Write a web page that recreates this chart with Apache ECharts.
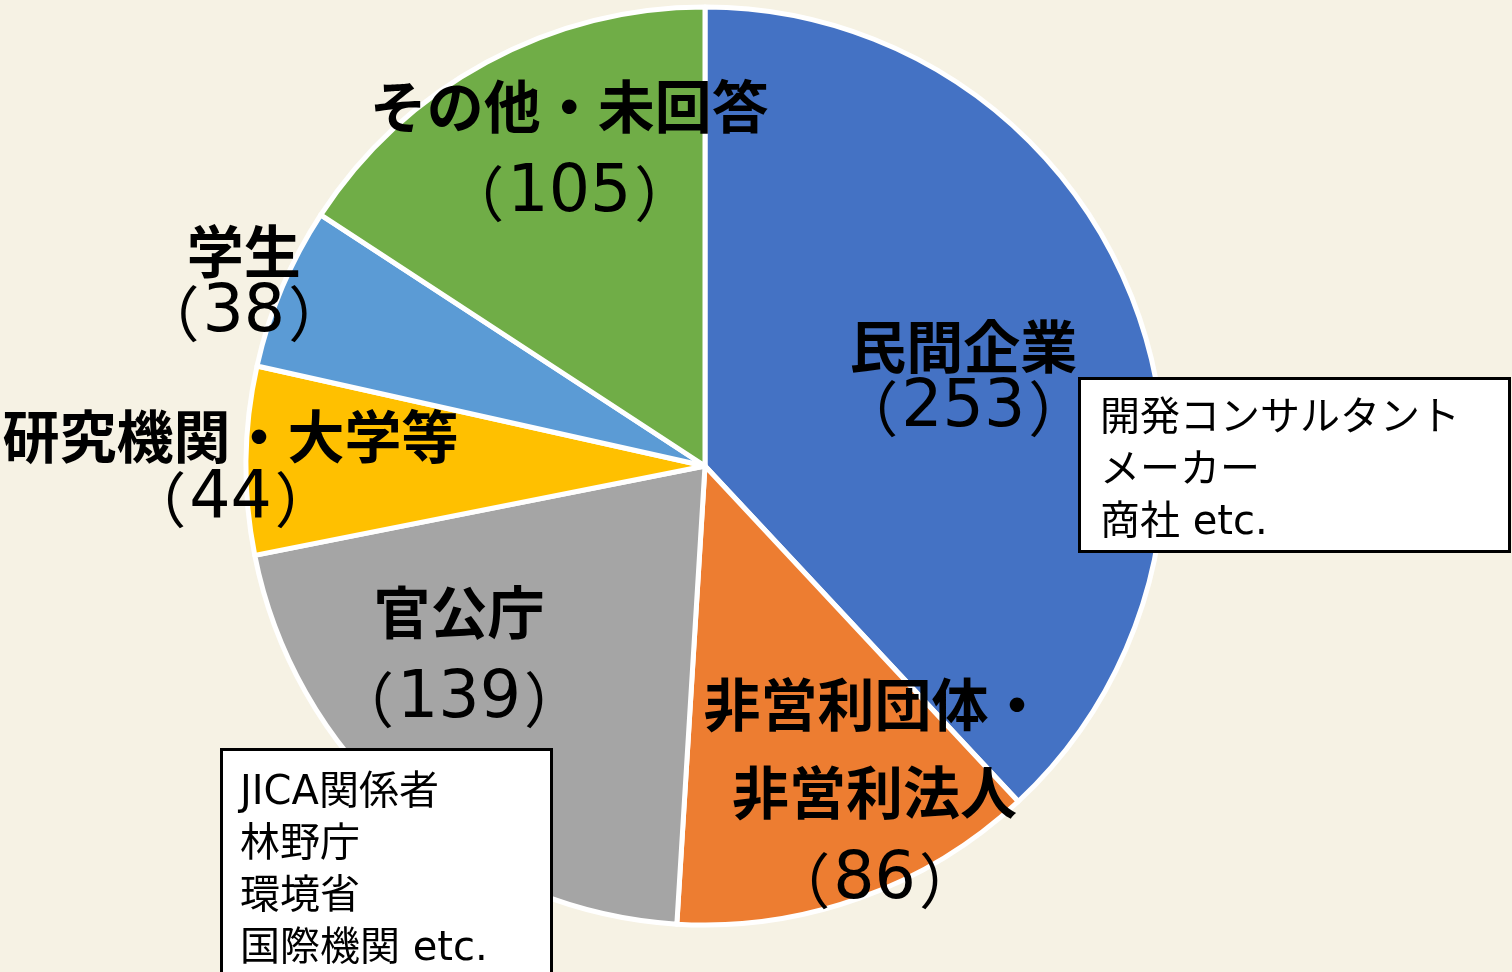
<!DOCTYPE html>
<html>
<head>
<meta charset="utf-8">
<script src="https://cdn.jsdelivr.net/npm/echarts@6/dist/echarts.min.js"></script>
<style>
html,body{margin:0;padding:0;background:#F6F2E4;}
#chart{width:1512px;height:972px;}
</style>
</head>
<body>
<div id="chart"></div>
<script>
// ---- data ----
const categories = ['民間企業', '非営利団体・\n非営利法人', '官公庁', '研究機関・大学等', '学生', 'その他・未回答'];
const counts = [253, 86, 139, 44, 38, 105];
const colors = ['#4472C4', '#ED7D31', '#A5A5A5', '#FFC000', '#5B9BD5', '#70AD47'];
const noteRight = ['開発コンサルタント', 'メーカー', '商社 etc.'];
const noteLeft = ['JICA関係者', '林野庁', '環境省', '国際機関 etc.'];

// ---- layout (label nudges from slice centre) ----
const labelOffsets = [[42, -3], [91, 108], [-93, 15], [-242, 5], [-247, -93], [-25, -111]];
const wideSpacing = [false, true, true, false, false, true];

const CJK = '"Noto Sans CJK JP", "Noto Sans", sans-serif';
const NUM = '"DejaVu Sans", "Noto Sans CJK JP", sans-serif';
const chart = echarts.init(document.getElementById('chart'));

const seriesData = categories.map((name, i) => ({
  name: name,
  value: counts[i],
  itemStyle: { color: colors[i] },
  label: { offset: labelOffsets[i] }
}));

function richSet(lh) {
  return {
    n: { fontFamily: CJK, fontSize: 57, fontWeight: 'bold', color: '#000', lineHeight: lh, align: 'center' },
    p: { fontFamily: CJK, fontSize: 60, fontWeight: 'normal', color: '#000', lineHeight: lh, padding: [0, 3, 0, 3] },
    v: { fontFamily: NUM, fontSize: 65, fontWeight: 'normal', color: '#000', lineHeight: lh }
  };
}
const rs = richSet(63), rw = richSet(88);
const rich = {
  n: rs.n, p: rs.p, v: rs.v,
  n2: rw.n, p2: rw.p, v2: rw.v
};

chart.setOption({
  backgroundColor: '#F6F2E4',
  animation: false,
  series: [{
    type: 'pie',
    center: [705, 466],
    radius: 459,
    startAngle: 90,
    clockwise: true,
    avoidLabelOverlap: false,
    itemStyle: { borderColor: '#ffffff', borderWidth: 5 },
    label: {
      show: true,
      position: 'inside',
      color: '#000',
      formatter: function (p) {
        const s = wideSpacing[p.dataIndex] ? '2' : '';
        return '{n' + s + '|' + p.name + '}\n{p' + s + '|（}{v' + s + '|' + p.value + '}{p' + s + '|）}';
      },
      rich: rich
    },
    labelLine: { show: false },
    emphasis: { disabled: true },
    data: seriesData
  }],
  graphic: [
    {
      type: 'rect',
      shape: { x: 1079.5, y: 378.5, width: 430, height: 173 },
      style: { fill: '#ffffff', stroke: '#000', lineWidth: 3 },
      z: 100
    },
    {
      type: 'text',
      x: 1100, y: 394,
      style: { text: noteRight.join('\n'), font: '400 40px "DejaVu Sans", "Noto Sans CJK JP", sans-serif', lineHeight: 52, fill: '#000', verticalAlign: 'top' },
      z: 101
    },
    {
      type: 'rect',
      shape: { x: 221.5, y: 749.5, width: 330, height: 240 },
      style: { fill: '#ffffff', stroke: '#000', lineWidth: 3 },
      z: 100
    },
    {
      type: 'text',
      x: 240, y: 768,
      style: { text: noteLeft.join('\n'), font: '400 40px "DejaVu Sans", "Noto Sans CJK JP", sans-serif', lineHeight: 52, fill: '#000', verticalAlign: 'top' },
      z: 101
    }
  ]
});
</script>
</body>
</html>
